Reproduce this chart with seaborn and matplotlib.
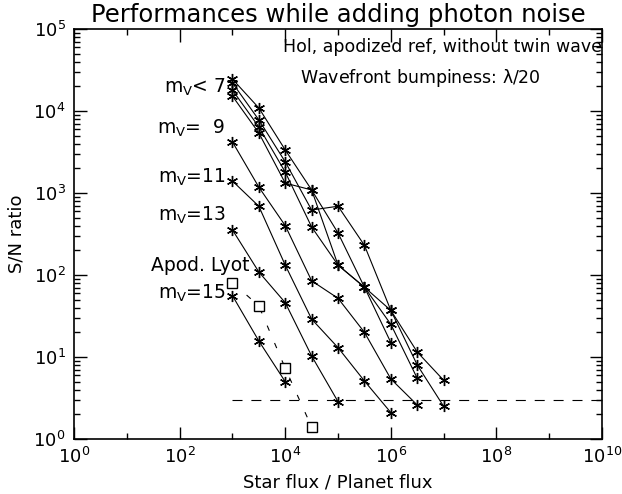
import numpy as np
import pandas as pd
import seaborn as sns
import matplotlib
matplotlib.use("Agg")
import matplotlib.pyplot as plt
from matplotlib.ticker import FixedLocator, LogLocator, LogFormatterSciNotation, NullFormatter

# values (log-log)
flux = [1e3, 3.16e3, 1e4, 3.16e4, 1e5, 3.16e5, 1e6, 3.16e6, 1e7]

snr_bright_a = [24500, 10900, 3350, 1090, 325, 71, 37, 11.5, 5.2]
snr_bright_b = [22000, 7800, 2400, 620, 690, 230, 37, 8.0, 2.5]
snr_bright_c = [18000, 6400, 1800, 385, 132, 71, 25, 5.5]
snr_bright_d = [15200, 5400, 1320, 1090, 132, 71, 15]
snr_mv9 = [4200, 1180, 400, 85, 52, 20, 5.4, 2.6]
snr_mv11 = [1400, 690, 132, 29, 13, 5.1, 2.1]
snr_mv13 = [355, 109, 46, 10.3, 2.85]
snr_mv15 = [56, 15.7, 5.0]
snr_lyot15 = [81, 42, 7.3, 1.4]

detect_x = [1e3, 1e10]
detect_snr = [3, 3]

sns.set_style("ticks")
plt.rcParams["font.family"] = ["DejaVu Sans"]
plt.rcParams["mathtext.default"] = "regular"
plt.rcParams["text.color"] = "black"
plt.rcParams["axes.labelcolor"] = "black"

fig = plt.figure(figsize=(6.22, 4.94), dpi=100)
ax = fig.add_axes([0.119, 0.1113, 0.849, 0.83])

star = (6, 2, 0)
for s in [snr_bright_a, snr_bright_b, snr_bright_c, snr_bright_d,
          snr_mv9, snr_mv11, snr_mv13, snr_mv15]:
    sns.lineplot(x=flux[:len(s)], y=s, ax=ax, color="black", lw=0.8,
                 marker=star, markersize=8, markeredgewidth=1.0,
                 markeredgecolor="black", estimator=None)

sns.lineplot(x=flux[:len(snr_lyot15)], y=snr_lyot15, ax=ax, color="black",
             lw=0.8, linestyle=(0, (5, 12)), marker="s", markersize=6.5,
             markerfacecolor="white", markeredgecolor="black",
             markeredgewidth=1.0, estimator=None)

sns.lineplot(x=detect_x, y=detect_snr, ax=ax, color="black", lw=0.8,
             linestyle=(0, (9, 8)), estimator=None)

ax.set_xscale("log")
ax.set_yscale("log")
ax.set_xlim(1e0, 1e10)
ax.set_ylim(1e0, 1e5)

ax.xaxis.set_major_locator(FixedLocator([1e0, 1e2, 1e4, 1e6, 1e8, 1e10]))
ax.xaxis.set_minor_locator(FixedLocator([1e1, 1e3, 1e5, 1e7, 1e9]))
ax.xaxis.set_major_formatter(LogFormatterSciNotation())
ax.xaxis.set_minor_formatter(NullFormatter())
ax.yaxis.set_major_locator(LogLocator(base=10, numticks=10))
ax.yaxis.set_minor_locator(LogLocator(base=10, subs=np.arange(2, 10), numticks=10))
ax.yaxis.set_major_formatter(LogFormatterSciNotation())
ax.yaxis.set_minor_formatter(NullFormatter())

ax.tick_params(which="both", direction="in", top=True, right=True,
               labelsize=13, colors="black", pad=6)
ax.tick_params(which="major", length=9, width=1.0)
ax.tick_params(which="minor", length=4.5, width=1.0)
for sp in ax.spines.values():
    sp.set_linewidth(1.2)
    sp.set_color("black")

ax.set_xlabel("Star flux / Planet flux", fontsize=13, labelpad=4)
ax.set_ylabel("S/N ratio", fontsize=13, labelpad=6)
ax.set_title("Performances while adding photon noise", fontsize=17.5, pad=5,
             color="black")

txt = dict(fontsize=12.5, color="black", va="center")
ax.text(1.0, 0.957, "Hol, apodized ref, without twin wave", transform=ax.transAxes, ha="right", **txt)
ax.text(0.428, 0.880, r"Wavefront bumpiness: $\lambda$/20", transform=ax.transAxes, ha="left", **txt)
lab = dict(fontsize=13.5, color="black", va="center")
ax.text(0.287, 0.858, r"$m_V$< 7", transform=ax.transAxes, ha="right", **lab)
ax.text(0.287, 0.758, r"$m_V$=  9", transform=ax.transAxes, ha="right", **lab)
ax.text(0.287, 0.637, r"$m_V$=11", transform=ax.transAxes, ha="right", **lab)
ax.text(0.287, 0.546, r"$m_V$=13", transform=ax.transAxes, ha="right", **lab)
ax.text(0.332, 0.424, "Apod. Lyot", transform=ax.transAxes, ha="right", **lab)
ax.text(0.287, 0.356, r"$m_V$=15", transform=ax.transAxes, ha="right", **lab)

fig.savefig("out.png", dpi=100)
